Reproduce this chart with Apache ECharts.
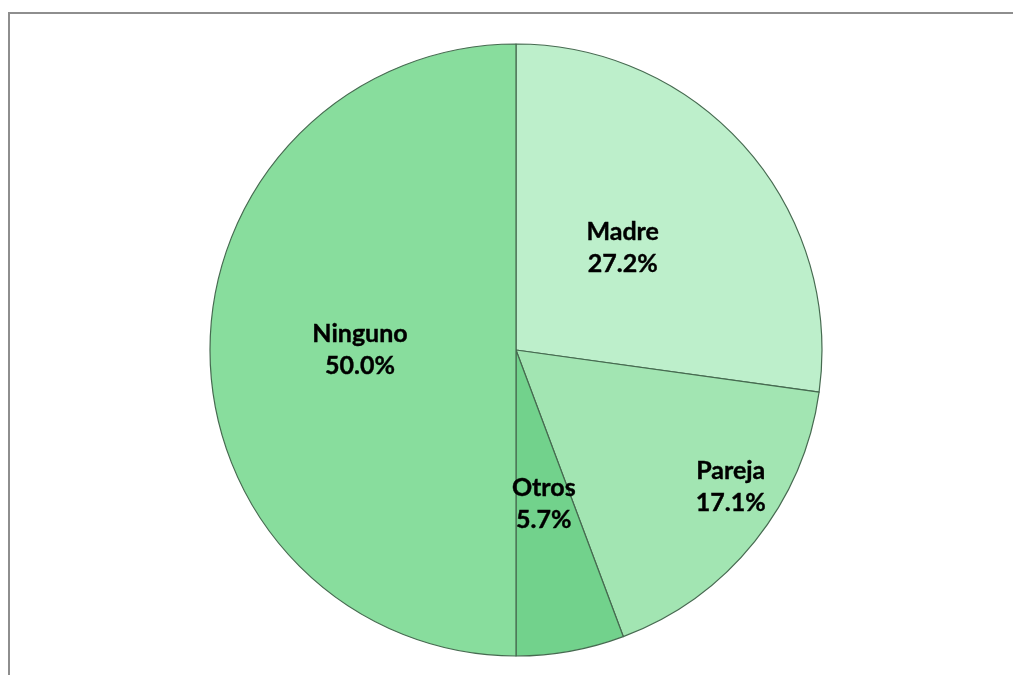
<!DOCTYPE html>
<html>
<head>
<meta charset="utf-8">
<style>
  html, body { margin: 0; padding: 0; background: #ffffff; }
  #chart { width: 1013px; height: 675px; }
</style>
<script src="https://cdn.jsdelivr.net/npm/echarts@6/dist/echarts.min.js"></script>
</head>
<body>
<div id="chart"></div>
<script>
// Categories and shares (%), clockwise from 12 o'clock
const categories = ['Madre', 'Pareja', 'Otros', 'Ninguno'];
const shares = [27.2, 17.1, 5.7, 50.0];
const sliceColors = ['#bdefcb', '#a2e5b2', '#72d28c', '#88dd9d'];

const chart = echarts.init(document.getElementById('chart'), null, { renderer: 'canvas' });

const data = categories.map((name, i) => ({
  name: name,
  value: shares[i],
  itemStyle: { color: sliceColors[i] }
}));

chart.setOption({
  animation: false,
  backgroundColor: '#ffffff',
  graphic: [{
    type: 'polyline',
    shape: { points: [[1013, 13], [9, 13], [9, 675]] },
    style: { stroke: '#8e8e8e', lineWidth: 2, fill: null },
    silent: true
  }],
  series: [{
    type: 'pie',
    center: [516, 350],
    radius: 306,
    startAngle: 90,
    clockwise: true,
    avoidLabelOverlap: false,
    data: data,
    itemStyle: {
      borderColor: '#466a50',
      borderWidth: 1.2
    },
    label: {
      show: true,
      position: 'inside',
      formatter: p => p.name + '\n' + p.value.toFixed(1) + '%',
      fontFamily: 'Lato, "Open Sans", sans-serif',
      fontWeight: 'bold',
      fontSize: 25,
      lineHeight: 32,
      color: '#000000',
      textBorderColor: '#000000',
      textBorderWidth: 0.4
    },
    labelLine: { show: false },
    // Pareja's label sits further out towards the rim; Madre's slightly left
    labelLayout: function (params) {
      if (params.dataIndex === 1) return { dx: 93, dy: 39 };
      if (params.dataIndex === 0) return { dx: -11, dy: 0 };
      return {};
    }
  }]
});
</script>
</body>
</html>
